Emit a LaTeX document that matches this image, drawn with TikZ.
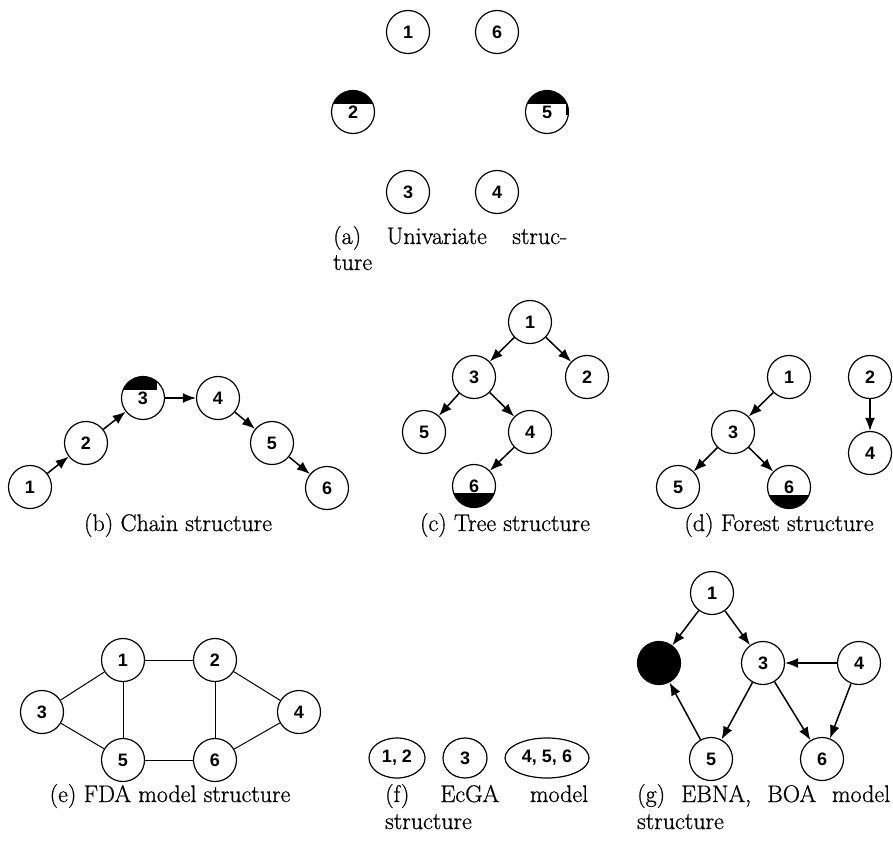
\documentclass[tikz,border=0pt]{standalone}
\usepackage{fontspec}
\newfontfamily\numfam{Liberation Sans}
\newfontfamily\capfam{Latin Modern Roman}[FakeBold=0.8]
\usetikzlibrary{arrows.meta,shapes.geometric}

\begin{document}
\begin{tikzpicture}[x=1pt,y=-1pt,
  vnode/.style={circle,draw,line width=1.2pt,minimum size=43pt,inner sep=0pt,
    font=\numfam\bfseries\fontsize{18}{18}\selectfont},
  cnode/.style={ellipse,draw,line width=1.2pt,minimum height=40pt,inner sep=0pt,
    font=\numfam\bfseries\fontsize{18}{18}\selectfont},
  arr/.style={-{Latex[length=13pt,width=10pt]},line width=1.5pt},
  link/.style={line width=1pt},
  captext/.style={font=\capfam\fontsize{24}{28}\selectfont,inner sep=0pt,anchor=base},
  captextl/.style={captext,anchor=base west}]
\useasboundingbox (0,0) rectangle (893,840);

% ---------------- (a) univariate ----------------
\node[vnode] (a1) at (408,32) {1};
\node[vnode] (a6) at (497,32) {6};
\node[vnode] (a2) at (353,112) {2};
\node[vnode] (a5) at (547,112) {5};
\node[vnode] (a3) at (408,192) {3};
\node[vnode] (a4) at (497,192) {4};
\begin{scope}
  \clip (a2.center) circle[radius=21.5pt];
  \fill ([shift={(-25pt,8pt)}]a2.center) rectangle ([shift={(25pt,25pt)}]a2.center);
\end{scope}
\begin{scope}
  \clip (a5.center) circle[radius=21.5pt];
  \fill ([shift={(-25pt,8pt)}]a5.center) rectangle ([shift={(25pt,25pt)}]a5.center);
  \fill ([shift={(19pt,-3pt)}]a5.center) rectangle ([shift={(25pt,9pt)}]a5.center);
\end{scope}
\node[captextl] (capa1) at (333,244) {\makebox[234pt][s]{(a) Univariate struc-}};
\node[captextl] (capa2) at (333,270) {ture};

% ---------------- (b) chain ----------------
\node[vnode] (b1) at (30,487) {1};
\node[vnode] (b2) at (86,443) {2};
\node[vnode] (b3) at (143,398) {3};
\node[vnode] (b4) at (218,398) {4};
\node[vnode] (b5) at (272,443) {5};
\node[vnode] (b6) at (327,488) {6};
\begin{scope}
  \clip (b3.center) circle[radius=21.5pt];
  \fill ([shift={(-25pt,8pt)}]b3.center) rectangle ([shift={(14pt,25pt)}]b3.center);
\end{scope}
\draw[arr] (b1) -- (b2);
\draw[arr] (b2) -- (b3);
\draw[arr] (b3) -- (b4);
\draw[arr] (b4) -- (b5);
\draw[arr] (b5) -- (b6);
\node[captext] (capb) at (178,531) {(b) Chain structure};

% ---------------- (c) tree ----------------
\node[vnode] (c1) at (530,322) {1};
\node[vnode] (c3) at (474,377) {3};
\node[vnode] (c2) at (587,377) {2};
\node[vnode] (c5) at (424,432) {5};
\node[vnode] (c4) at (530,432) {4};
\node[vnode] (c6) at (474,486) {6};
\begin{scope}
  \clip (c6.center) circle[radius=21.5pt];
  \fill ([shift={(-25pt,-7pt)}]c6.center) rectangle ([shift={(25pt,-25pt)}]c6.center);
\end{scope}
\draw[arr] (c1) -- (c3);
\draw[arr] (c1) -- (c2);
\draw[arr] (c3) -- (c5);
\draw[arr] (c3) -- (c4);
\draw[arr] (c4) -- (c6);
\node[captext] (capc) at (505,531) {(c) Tree structure};

% ---------------- (d) forest ----------------
\node[vnode] (d1) at (789,377) {1};
\node[vnode] (d2) at (870,377) {2};
\node[vnode] (d3) at (733,432) {3};
\node[vnode] (d4) at (870,453) {4};
\node[vnode] (d5) at (678,487) {5};
\node[vnode] (d6) at (789,487) {6};
\begin{scope}
  \clip (d6.center) circle[radius=21.5pt];
  \fill ([shift={(-25pt,-8pt)}]d6.center) rectangle ([shift={(25pt,-25pt)}]d6.center);
\end{scope}
\draw[arr] (d1) -- (d3);
\draw[arr] (d3) -- (d5);
\draw[arr] (d3) -- (d6);
\draw[arr] (d2) -- (d4);
\node[captext] (capd) at (779,531) {(d) Forest structure};

% ---------------- (e) FDA ----------------
\node[vnode] (e1) at (123,660) {1};
\node[vnode] (e2) at (215,660) {2};
\node[vnode] (e3) at (42,712) {3};
\node[vnode] (e4) at (299,712) {4};
\node[vnode] (e5) at (123,760) {5};
\node[vnode] (e6) at (215,760) {6};
\draw[link] (e3) -- (e1);
\draw[link] (e3) -- (e5);
\draw[link] (e1) -- (e2);
\draw[link] (e1) -- (e5);
\draw[link] (e2) -- (e6);
\draw[link] (e2) -- (e4);
\draw[link] (e5) -- (e6);
\draw[link] (e6) -- (e4);
\node[captext] (cape) at (170,802) {(e) FDA model structure};

% ---------------- (f) EcGA ----------------
\node[cnode,minimum width=56pt] (f12) at (397,758) {1, 2};
\node[cnode,minimum width=44pt] (f3) at (465,758) {3};
\node[cnode,minimum width=84pt] (f456) at (547,758) {4, 5, 6};
\node[captextl] (capf1) at (385,802) {\makebox[203pt][s]{(f) EcGA model}};
\node[captextl] (capf2) at (385,829) {structure};

% ---------------- (g) EBNA, BOA ----------------
\node[vnode] (g1) at (712,593) {1};
\node[vnode,fill=black] (g2) at (659,663) {};
\node[vnode] (g3) at (763,663) {3};
\node[vnode] (g4) at (859,663) {4};
\node[vnode] (g5) at (711,759) {5};
\node[vnode] (g6) at (822,759) {6};
\draw[arr] (g1) -- (g2);
\draw[arr] (g1) -- (g3);
\draw[arr] (g4) -- (g3);
\draw[arr] (g3) -- (g5);
\draw[arr] (g3) -- (g6);
\draw[arr] (g4) -- (g6);
\draw[arr] (g5) -- (g2);
\node[captextl] (capg1) at (637,802) {\makebox[253pt][s]{(g) EBNA, BOA model}};
\node[captextl] (capg2) at (637,829) {structure};
\end{tikzpicture}
\end{document}
